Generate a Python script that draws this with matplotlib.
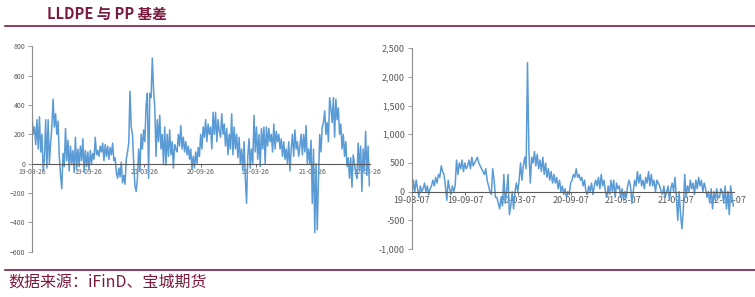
import numpy as np
import pandas as pd
import matplotlib
matplotlib.use("Agg")
import matplotlib.pyplot as plt
import matplotlib.dates as mdates
from matplotlib.ticker import FuncFormatter

plt.rcParams['font.family'] = ['Noto Sans CJK SC', 'DejaVu Sans']

title = "LLDPE 与 PP 基差"
source = "数据来源：iFinD、宝城期货"

# LLDPE basis (left)
lldpe = [330, 200, 250, 130, 300, 100, 320, 80, 200, -50, 30, 300, -30, 300, 0, 140,
         250, 440, 250, 340, 200, 290, 50, -80,
         -170, 70, -20, 240, 20, 160, -50, 120, 0, 90, -60, 180, -40, 100, -20, 120,
         20, 170, -60, 90, -20, 80, -40, 90, 0, 70, 30, 180, 60, 90, 50, 120, 80, 140,
         20, 130, 50, 120, 30, 110, 60, 140, 20, 40, -60, -100, -30, -90, 10, -130,
         -80, -140, 30, 80, 140, 495, 250, 200, 0, -150, -190, -100, 100, -50, 200,
         100, 230, 150, 400, 480, -100, 480, 450, 720, 500, 380, 50, 300, 150, 330,
         100, 200, 0, 250, -10, 200, 50, 230, 60, 150, -30, 130, 100, 80, 200, 120,
         260, 100, 180, 80, 150, 60, 120, 30, 100, -40, 50, -30, 80, 0, 110, 50, 200,
         100, 250, 180, 300, 150, 270, 200, 250, 100, 350, 200, 350, 150, 300, 220,
         180, 340, 200, 270, 120, 240, 60, 200, 100, 340, 60, 250, 100, 200, 40, 180,
         0, 100, -50, 150, -100, -270, 50, 170, -30, 100, 0, 330, 80, 250, 30, 200,
         -20, 240, 100, 250, 0, 250, 120, 240, 150, 200, 80, 270, 100, 220, 150, 200,
         100, 170, 50, 150, 30, 100, 0, 150, -50, 100, 200, 50, 230, 100, 150, 50,
         120, 200, 60, 200, 80, 260, 0, 100, 0, 160, -270, 100, -470, 0, -450, -100,
         200, 80, 250, 280, 360, 200, 280, 150, 450, 380, 280, 450, 180, 440, 300,
         380, 200, 270, 100, 200, 50, 150, -20, 40, -100, 40, -160, 60, 0, -60, -100,
         140, -50, 120, -190, 100, -50, 220, -80, 120, -150]

# PP basis (right)
pp = [-100, 200, 0, 200, 50, -100, 100, 0, 50, 150, 0, 100, -50, 50, 100, 200, 100,
      250, 150, 300, 250, 450, 350, 300, 100, -150, 200, 50,
      -50, 100, 0, 100, 550, 300, 500, 400, 550, 350, 500, 400, 450, 550,
      400, 600, 450, 500, 550, 600, 500, 450, 400, 350, 300, 400, 200, 100, 0, -50,
      400, 200, -100, -100, -200, -300, -100, -250, 300, -200, 0,
      300, -400, -250, 0, -300, 0, 150, 0, 200, 500, 200, 450, 600,
      400, 2250, 700, 150, 600, 500, 700, 450, 650, 400, 550, 350, 600, 300, 500, 250,
      400, 200, 350, 150, 300, 150, 250, 50, 200, 0, 100, -50, 50, -100, 0, -50, 150,
      200, 300, 250, 400, 250, 300, 200, 250, 100, 200, 0, -50, 100, 0, 150, -50,
      100, 200, 100, 250,
      50, 300, 100, 200, 0, -100, 100, -50, 200, 0, 200, -100, 150, 50, 100, -100,
      50, -150, 0, -100, 100,
      200, 100, -200, 0, 200, 100, 350, 150, 300, 100, 200, 50, 250, 150, 350, 100,
      300, 100, 200, 0,
      200, 150, 100, 0, -50, 100, -100, 0, 100, -150, 50, 150, 0, 250, -100, -500, 0,
      -400, -650, -300, 300, -100, 100, 0, 200, 50, 150, -50, 200, 50, 250, 100, 200,
      0, 150, 50, -100, 0, -200, 50, -300, 0, -150, 50, -100, -100, 50, 0, -200, 100,
      -300, 0, -400, 100, -100, -250]

left_ticks = ["2019-03-26", "2019-09-26", "2020-03-26", "2020-09-26",
              "2021-03-26", "2021-09-26", "2022-03-26"]
right_ticks = ["2019-03-07", "2019-09-07", "2020-03-07", "2020-09-07",
               "2021-03-07", "2021-09-07", "2022-03-07"]

left_dates = pd.date_range("2019-03-26", "2022-03-31", periods=len(lldpe))
right_dates = pd.date_range("2019-03-07", "2022-03-25", periods=len(pp))

maroon = "#7B1A3E"
blue = "#5B9BD5"
grey = "#8C8C8C"

fig = plt.figure(figsize=(7.55, 2.97), dpi=100)
fig.text(0.062, 0.953, title, fontsize=10.5, fontweight='bold', color=maroon,
         va='center', ha='left')
fig.add_artist(plt.Line2D([0.007, 1.0], [0.912, 0.912], color=maroon, lw=1.2))
fig.add_artist(plt.Line2D([0.007, 1.0], [0.09, 0.09], color=maroon, lw=1.2))
fig.text(0.011, 0.046, source, fontsize=11.5, color=maroon, va='center', ha='left')


def style(ax, dates, vals, ticks, ylim, yticks, xend, fs, comma):
    ax.plot(dates, vals, color=blue, lw=1.1)
    ax.set_xlim(dates[0], pd.Timestamp(xend))
    ax.set_ylim(*ylim)
    ax.set_yticks(yticks)
    if comma:
        ax.yaxis.set_major_formatter(FuncFormatter(lambda v, p: f"{int(v):,}"))
    ax.set_xticks(pd.to_datetime(ticks))
    ax.xaxis.set_major_formatter(mdates.DateFormatter("%y-%m-%d"))
    for s in ['top', 'right']:
        ax.spines[s].set_visible(False)
    ax.spines['bottom'].set_position(('data', 0))
    ax.spines['bottom'].set_color('#595959')
    ax.spines['left'].set_color(grey)
    ax.tick_params(axis='y', labelsize=fs, colors='#595959', length=3, width=0.6,
                   color=grey, pad=2)
    ax.tick_params(axis='x', labelsize=fs, colors='#595959', length=2, width=0.6,
                   color='#595959', pad=1)
    ax.set_facecolor('none')


ax1 = fig.add_axes([0.0424, 0.1525, 0.4476, 0.6916])
style(ax1, left_dates, lldpe, left_ticks, (-600, 800), range(-600, 801, 200),
      "2022-04-02", 5, False)

ax2 = fig.add_axes([0.5457, 0.1616, 0.4265, 0.6758])
style(ax2, right_dates, pp, right_ticks, (-1000, 2500), range(-1000, 2501, 500),
      "2022-03-27", 6.5, True)

fig.savefig("out.png", dpi=100)
